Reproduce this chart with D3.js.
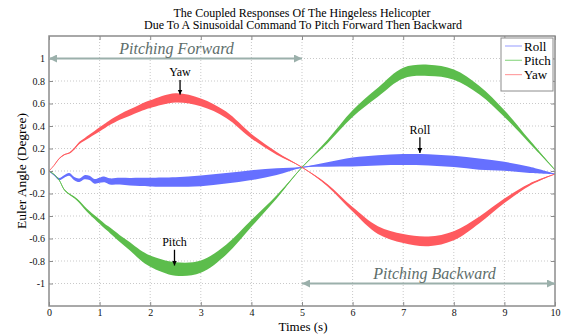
<!DOCTYPE html>
<html>
<head>
<meta charset="utf-8">
<script src="https://cdn.jsdelivr.net/npm/d3@7"></script>
<style>
  body { margin: 0; background: #fff; }
  text { font-family: "Liberation Serif", "Times New Roman", serif; }
</style>
</head>
<body>
<div id="chart"></div>
<script>
// time axis (s), denser at the start where roll wiggles
var time = [0, 0.1, 0.2, 0.3, 0.4, 0.5, 0.6, 0.7, 0.8, 0.9, 1.0, 1.1, 1.2,
            1.4, 1.6, 1.8, 2.0, 2.5, 3.0, 3.5, 4.0, 4.5, 5.0, 5.5, 6.0,
            6.5, 7.0, 7.5, 8.0, 8.5, 9.0, 9.5, 10.0];

// band centre and half thickness of each response (degree)
var rollMid = [0, -0.035, -0.072, -0.048, -0.03, -0.068, -0.082, -0.055, -0.062, -0.092, -0.082, -0.075, -0.092,
               -0.09, -0.095, -0.097, -0.098, -0.098, -0.087, -0.065, -0.037, -0.005, 0.033, 0.058, 0.08,
               0.095, 0.102, 0.1, 0.085, 0.062, 0.042, 0.01, -0.027];
var rollHalf = [0.003, 0.006, 0.009, 0.011, 0.012, 0.014, 0.016, 0.018, 0.019, 0.021, 0.023, 0.025, 0.027,
                0.03, 0.033, 0.036, 0.039, 0.043, 0.048, 0.047, 0.044, 0.03, 0.003, 0.02, 0.04,
                0.045, 0.049, 0.05, 0.05, 0.05, 0.04, 0.028, 0.003];

var pitchMid = [0, -0.03, -0.08, -0.165, -0.205, -0.235, -0.275, -0.325, -0.37, -0.41, -0.45, -0.49, -0.525,
                -0.6, -0.67, -0.745, -0.8, -0.87, -0.85, -0.7, -0.466, -0.23, 0.033, 0.26, 0.51,
                0.7, 0.87, 0.895, 0.857, 0.72, 0.51, 0.26, 0.01];
var pitchHalf = [0, 0.002, 0.004, 0.005, 0.006, 0.008, 0.01, 0.012, 0.014, 0.016, 0.019, 0.022, 0.025,
                 0.03, 0.036, 0.043, 0.05, 0.06, 0.055, 0.045, 0.03, 0.015, 0.002, 0.015, 0.03,
                 0.04, 0.047, 0.05, 0.045, 0.038, 0.03, 0.015, 0.002];

var yawMid = [0, 0.05, 0.11, 0.145, 0.16, 0.198, 0.25, 0.28, 0.31, 0.34, 0.37, 0.4, 0.43,
              0.48, 0.52, 0.56, 0.594, 0.65, 0.61, 0.5, 0.31, 0.157, 0.033, -0.125, -0.34,
              -0.525, -0.6, -0.625, -0.575, -0.436, -0.265, -0.12, -0.027];
var yawHalf = [0, 0.002, 0.003, 0.004, 0.005, 0.008, 0.01, 0.012, 0.014, 0.016, 0.018, 0.02, 0.022,
               0.025, 0.028, 0.032, 0.035, 0.042, 0.035, 0.028, 0.02, 0.012, 0.002, 0.01, 0.02,
               0.035, 0.04, 0.043, 0.04, 0.03, 0.02, 0.01, 0.002];

var seriesNames = ["Roll", "Pitch", "Yaw"];
var xTicks = [0, 1, 2, 3, 4, 5, 6, 7, 8, 9, 10];
var yTicks = [-1, -0.8, -0.6, -0.4, -0.2, 0, 0.2, 0.4, 0.6, 0.8, 1];

var W = 567, H = 335,
    LEFT = 49, RIGHT = 555, TOP = 36, BOTTOM = 306,
    COLORS = ["#6670ff", "#5cbd4c", "#ff5a5f"],
    LEGEND_COLORS = ["#a6acff", "#93da8c", "#ffa2a4"],
    NOTE_ARROW = "#9bb0ab",
    NOTE_TEXT = "#5d6d6a";

var svg = d3.select("#chart").append("svg")
  .attr("width", W)
  .attr("height", H);

var x = d3.scaleLinear().domain([0, 10]).range([LEFT, RIGHT]);
var y = d3.scaleLinear().domain([-1.2, 1.2]).range([BOTTOM, TOP]);

// dotted grid
svg.append("g").selectAll("line").data(xTicks.slice(1, -1)).join("line")
  .attr("x1", d => x(d)).attr("x2", d => x(d))
  .attr("y1", TOP).attr("y2", BOTTOM)
  .style("stroke", "#c9c9c9").style("stroke-dasharray", "1,2");
svg.append("g").selectAll("line").data(yTicks).join("line")
  .attr("x1", LEFT).attr("x2", RIGHT)
  .attr("y1", d => y(d)).attr("y2", d => y(d))
  .style("stroke", "#c9c9c9").style("stroke-dasharray", "1,2");

svg.append("clipPath").attr("id", "plot-clip")
  .append("rect").attr("x", LEFT).attr("y", TOP)
  .attr("width", RIGHT - LEFT).attr("height", BOTTOM - TOP);

function band(mid, half) {
  return time.map(function(t, i) {
    return {t: t, lo: mid[i] - half[i], hi: mid[i] + half[i], mid: mid[i]};
  });
}

var curve = d3.curveCatmullRom.alpha(0.5);
var area = d3.area()
  .x(d => x(d.t)).y0(d => y(d.lo)).y1(d => y(d.hi))
  .curve(curve);
var centre = d3.line()
  .x(d => x(d.t)).y(d => y(d.mid))
  .curve(curve);

var bands = [band(rollMid, rollHalf), band(pitchMid, pitchHalf), band(yawMid, yawHalf)];
var plot = svg.append("g").attr("clip-path", "url(#plot-clip)");
bands.forEach(function(b, i) {
  plot.append("path").datum(b).attr("d", area)
    .style("fill", COLORS[i]).style("stroke", "none");
  plot.append("path").datum(b).attr("d", centre)
    .style("fill", "none").style("stroke", COLORS[i]).style("stroke-width", 0.9);
});

// axes: ticks point inside the box, as in the original figure
var fmt = d => String(d);
svg.append("g").attr("transform", "translate(0," + BOTTOM + ")")
  .call(d3.axisBottom(x).tickValues(xTicks).tickFormat(fmt).tickSize(-4).tickPadding(3))
  .call(g => g.select(".domain").remove());
svg.append("g").attr("transform", "translate(0," + TOP + ")")
  .call(d3.axisTop(x).tickValues(xTicks).tickFormat("").tickSize(-4))
  .call(g => g.select(".domain").remove());
svg.append("g").attr("transform", "translate(" + LEFT + ",0)")
  .call(d3.axisLeft(y).tickValues(yTicks).tickFormat(fmt).tickSize(-4).tickPadding(4))
  .call(g => g.select(".domain").remove());
svg.append("g").attr("transform", "translate(" + RIGHT + ",0)")
  .call(d3.axisRight(y).tickValues(yTicks).tickFormat("").tickSize(-4))
  .call(g => g.select(".domain").remove());
svg.selectAll(".tick line").style("stroke", "#8c8c8c");
svg.selectAll(".tick text")
  .style("font-family", "'Liberation Serif', 'Times New Roman', serif")
  .style("font-size", "10px").style("fill", "#111");

svg.append("rect")
  .attr("x", LEFT).attr("y", TOP)
  .attr("width", RIGHT - LEFT).attr("height", BOTTOM - TOP)
  .style("fill", "none").style("stroke", "#8c8c8c").style("stroke-width", 1.5);

// titles
svg.append("text").attr("x", 302).attr("y", 16.5)
  .attr("text-anchor", "middle").style("font-size", "12px")
  .text("The Coupled Responses Of The Hingeless Helicopter");
svg.append("text").attr("x", 303).attr("y", 29)
  .attr("text-anchor", "middle").style("font-size", "12px")
  .text("Due To A Sinusoidal Command To Pitch Forward Then Backward");
svg.append("text").attr("x", 303).attr("y", 331)
  .attr("text-anchor", "middle").style("font-size", "13px")
  .text("Times (s)");
svg.append("text")
  .attr("transform", "translate(26,171) rotate(-90)")
  .attr("text-anchor", "middle").style("font-size", "13.5px")
  .text("Euler Angle (Degree)");

// "pitching" double arrows
var defs = svg.append("defs");
function marker(id, color, w, h) {
  defs.append("marker").attr("id", id)
    .attr("viewBox", "0 0 10 10").attr("refX", 10).attr("refY", 5)
    .attr("markerUnits", "userSpaceOnUse")
    .attr("markerWidth", w).attr("markerHeight", h)
    .attr("orient", "auto-start-reverse")
    .append("path").attr("d", "M0,0L10,5L0,10Z").style("fill", color);
}
marker("head-grey", NOTE_ARROW, 9, 8);
marker("head-black", "#000", 5, 6);

function span(t0, t1, v, label, tLabel, vLabel) {
  svg.append("line")
    .attr("x1", x(t0)).attr("x2", x(t1))
    .attr("y1", y(v)).attr("y2", y(v))
    .style("stroke", NOTE_ARROW).style("stroke-width", 2)
    .attr("marker-start", "url(#head-grey)")
    .attr("marker-end", "url(#head-grey)");
  svg.append("text").attr("x", x(tLabel)).attr("y", y(vLabel))
    .attr("text-anchor", "middle")
    .style("font-size", "16px").style("font-style", "italic")
    .style("fill", NOTE_TEXT)
    .text(label);
}
span(0, 5, 1, "Pitching Forward", 2.52, 1.04);
span(5, 10, -1, "Pitching Backward", 7.62, -0.96);

// labelled pointers to each curve
function pointer(label, t, vText, vFrom, vTo) {
  svg.append("text").attr("x", x(t)).attr("y", y(vText))
    .attr("text-anchor", "middle").style("font-size", "12px")
    .text(label);
  svg.append("line")
    .attr("x1", x(t)).attr("x2", x(t))
    .attr("y1", y(vFrom)).attr("y2", y(vTo))
    .style("stroke", "#000").style("stroke-width", 1.3)
    .attr("marker-end", "url(#head-black)");
}
pointer("Yaw", 2.59, 0.845, 0.81, 0.68);
pointer("Pitch", 2.48, -0.665, -0.7, -0.84);
pointer("Roll", 7.33, 0.33, 0.3, 0.16);

// legend
var legend = svg.append("g").attr("transform", "translate(501,38)");
legend.append("rect").attr("width", 52).attr("height", 53)
  .style("fill", "#fff").style("stroke", "#8c8c8c").style("stroke-width", 1);
seriesNames.forEach(function(name, i) {
  var ly = 8 + i * 14.3;
  legend.append("line").attr("x1", 4).attr("x2", 21)
    .attr("y1", ly).attr("y2", ly)
    .style("stroke", LEGEND_COLORS[i]).style("stroke-width", 1.2);
  legend.append("text").attr("x", 23).attr("y", ly + 4.5)
    .style("font-size", "13px").text(name);
});
</script>
</body>
</html>
